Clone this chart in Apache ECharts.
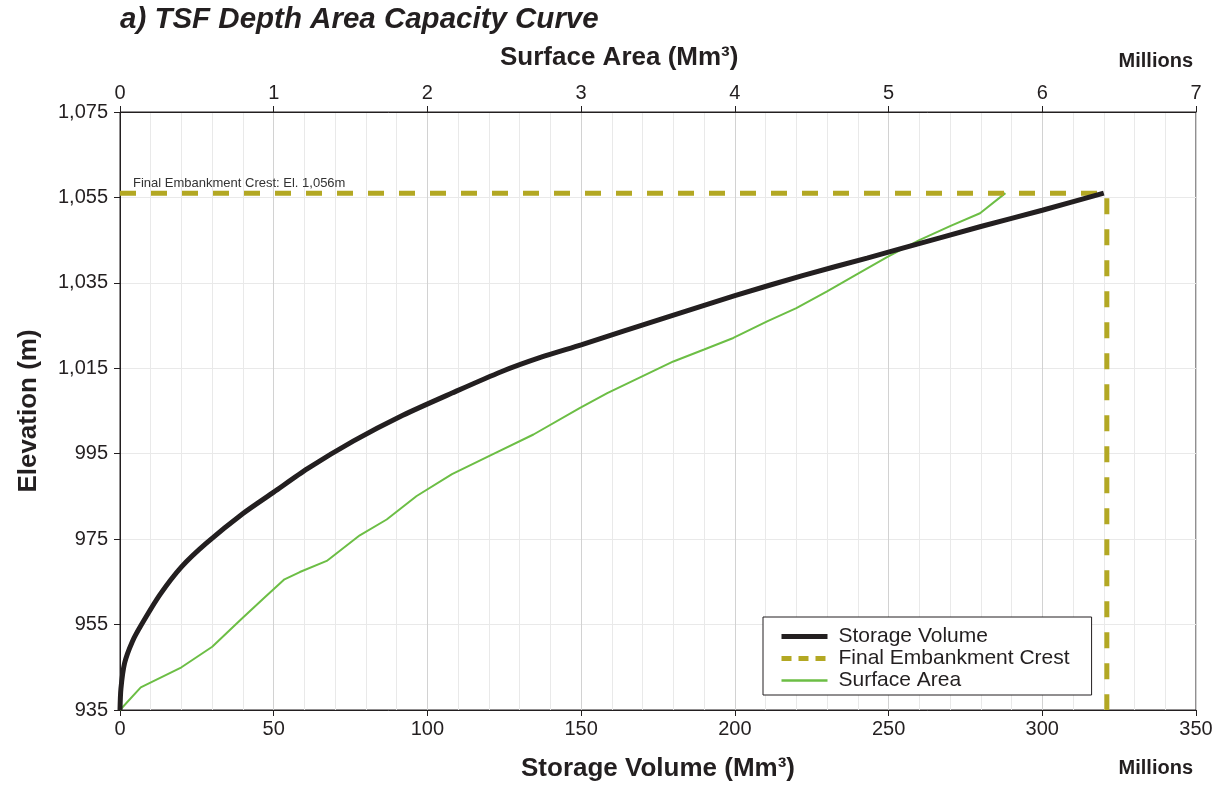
<!DOCTYPE html>
<html>
<head>
<meta charset="utf-8">
<script src="https://cdn.jsdelivr.net/npm/echarts@6/dist/echarts.min.js"></script>
<style>
html,body{margin:0;padding:0;background:#fff;}
#chart{width:1217px;height:787px;}
</style>
</head>
<body>
<div id="chart"></div>
<script>
// Storage volume curve: [volume (Mm3, millions), elevation (m)]
const storageVolume = [
  [0,935],[0.3,940],[1.5,946],[4,951],[7,955],[13,962],[20,968.5],[28,974],
  [40,981],[50,986],[61,991.5],[76,998],[92,1004],[108,1009.2],[124,1014.2],
  [137,1017.6],[150,1020.5],[178,1027],[200,1032],[222,1036.7],[243,1040.8],[254,1043],
  [280,1048.2],[300,1052],[320,1056]
];
// Surface area curve: [area (millions), elevation (m)]
const surfaceArea = [
  [0,935],[0.135,940.3],[0.40,945],[0.60,949.8],[0.79,956.3],[0.93,961],
  [1.07,965.6],[1.17,967.3],[1.345,969.9],[1.56,975.9],[1.735,979.6],
  [1.93,985.1],[2.16,990.2],[2.41,994.6],[2.69,999.5],[2.99,1005.7],
  [3.17,1009.2],[3.38,1012.8],[3.60,1016.6],[3.80,1019.4],[3.99,1022.1],
  [4.21,1026],[4.40,1029.1],[4.60,1033],[4.79,1036.9],[4.99,1041],
  [5.20,1045],[5.40,1048.3],[5.595,1051.3],[5.76,1056]
];
// Final embankment crest: El. 1,056 m, reached at about 321 Mm3
const crestLine = [[0,1056],[321,1056],[321,935]];
const volumeTicks = [0,50,100,150,200,250,300,350];
const areaTicks = [0,1,2,3,4,5,6,7];
const elevationTicks = [935,955,975,995,1015,1035,1055,1075];

const FONT = '"Liberation Sans", Arial, sans-serif';
const INK = '#231f20';

const chart = echarts.init(document.getElementById('chart'), null, {renderer:'canvas'});
const option = {
  animation:false,
  backgroundColor:'#fff',
  textStyle:{fontFamily:FONT, color:INK},
  grid:{left:120, right:21, top:112, bottom:76, show:true, borderColor:INK, borderWidth:1, containLabel:false},
  xAxis:[{
    type:'value', position:'bottom', min:volumeTicks[0], max:volumeTicks[volumeTicks.length-1], interval:50,
    name:'Storage Volume (Mm³)', nameLocation:'middle', nameGap:46,
    nameTextStyle:{fontFamily:FONT, fontSize:26, fontWeight:'bold', color:INK},
    axisLine:{show:true, lineStyle:{color:INK, width:1}},
    axisTick:{show:true, inside:false, length:6, lineStyle:{color:INK}},
    axisLabel:{fontFamily:FONT, fontSize:20, color:INK, margin:9},
    splitLine:{show:true, lineStyle:{color:'#d2d2d2', width:1}},
    minorTick:{show:false, splitNumber:5},
    minorSplitLine:{show:true, lineStyle:{color:'#e9e9e9', width:1}}
  },{
    type:'value', position:'top', min:areaTicks[0], max:areaTicks[areaTicks.length-1], interval:1,
    axisLine:{show:true, lineStyle:{color:INK, width:1}},
    axisTick:{show:true, inside:false, length:6, lineStyle:{color:INK}},
    axisLabel:{fontFamily:FONT, fontSize:20, color:INK, margin:9},
    splitLine:{show:false}
  }],
  yAxis:[{
    type:'value', min:elevationTicks[0], max:elevationTicks[elevationTicks.length-1], interval:20,
    name:'Elevation (m)', nameLocation:'middle', nameGap:78, nameRotate:90,
    nameTextStyle:{fontFamily:FONT, fontSize:26, fontWeight:'bold', color:INK},
    axisLine:{show:true, lineStyle:{color:INK, width:1}},
    axisTick:{show:true, inside:false, length:6, lineStyle:{color:INK}},
    axisLabel:{fontFamily:FONT, fontSize:20, color:INK, margin:12,
      formatter:v=>Number(v).toLocaleString('en-US')},
    splitLine:{show:true, lineStyle:{color:'#e9e9e9', width:1}}
  }],
  legend:{
    left:763, top:617, orient:'vertical',
    padding:[9,22,4,16], itemGap:1, itemWidth:46, itemHeight:18,
    backgroundColor:'#fff', borderColor:INK, borderWidth:1, borderRadius:0,
    itemStyle:{opacity:0},
    textStyle:{fontFamily:FONT, fontSize:21, color:INK, padding:[0,0,0,6]},
    data:[
      {name:'Storage Volume', lineStyle:{width:5}},
      {name:'Final Embankment Crest', lineStyle:{type:[10,7], width:5}},
      {name:'Surface Area', lineStyle:{width:2.5}}
    ]
  },
  series:[{
    name:'Surface Area', type:'line', xAxisIndex:1, yAxisIndex:0,
    data:surfaceArea, showSymbol:false, symbol:'none', smooth:false, z:2,
    lineStyle:{color:'#6cbe45', width:2}, itemStyle:{color:'#6cbe45'}
  },{
    name:'Final Embankment Crest', type:'line', xAxisIndex:0, yAxisIndex:0,
    data:crestLine, showSymbol:false, symbol:'none', z:3,
    lineStyle:{color:'#b3a823', width:5, type:[16,15], join:'miter'}, itemStyle:{color:'#b3a823'}
  },{
    name:'Storage Volume', type:'line', xAxisIndex:0, yAxisIndex:0,
    data:storageVolume, showSymbol:false, symbol:'none', smooth:0.25, z:4,
    lineStyle:{color:INK, width:5}, itemStyle:{color:INK}
  }]
};
chart.setOption(option);

const crestPx = chart.convertToPixel({xAxisIndex:0, yAxisIndex:0}, crestLine[0]);
chart.setOption({
  graphic:[
    {type:'text', left:120, top:5, style:{text:'a) TSF Depth Area Capacity Curve', fontFamily:FONT, fontSize:29.5, fontWeight:'bold', fontStyle:'italic', fill:INK}},
    {type:'text', left:500, top:45, style:{text:'Surface Area (Mm³)', fontFamily:FONT, fontSize:26, fontWeight:'bold', fill:INK}},
    {type:'text', right:24, top:51, style:{text:'Millions', fontFamily:FONT, fontSize:20, fontWeight:'bold', fill:INK}},
    {type:'text', right:24, top:758, style:{text:'Millions', fontFamily:FONT, fontSize:20, fontWeight:'bold', fill:INK}},
    {type:'text', x:crestPx[0]+13, y:crestPx[1]-10, style:{text:'Final Embankment Crest: El. 1,056m', fontFamily:FONT, fontSize:13, fill:'#333', textVerticalAlign:'middle'}}
  ]
});
</script>
</body>
</html>
